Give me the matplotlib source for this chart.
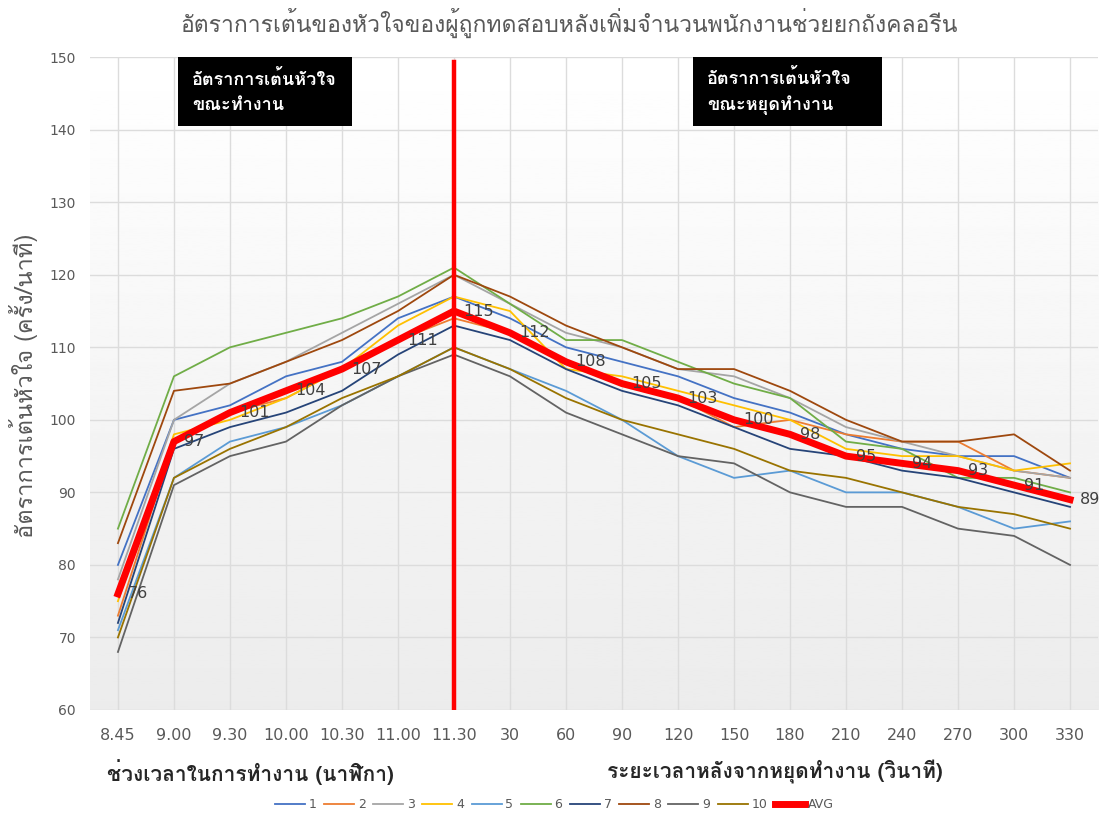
import numpy as np
import matplotlib
matplotlib.use("Agg")
import matplotlib.pyplot as plt
from matplotlib import font_manager, ft2font
from matplotlib.patches import Rectangle

categories = ['8.45', '9.00', '9.30', '10.00', '10.30', '11.00', '11.30',
              '30', '60', '90', '120', '150', '180', '210', '240', '270', '300', '330']

s1 = [80, 100, 102, 106, 108, 114, 117, 114, 110, 108, 106, 103, 101, 98, 96, 95, 95, 92]
s2 = [73, 97, 101, 103, 107, 111, 114, 112, 108, 105, 103, 99, 100, 98, 97, 97, 93, 92]
s3 = [78, 100, 105, 108, 112, 116, 120, 116, 112, 110, 107, 106, 103, 99, 97, 95, 93, 92]
s4 = [75, 98, 100, 103, 107, 113, 117, 115, 107, 106, 104, 102, 100, 96, 95, 95, 93, 94]
s5 = [71, 92, 97, 99, 102, 106, 110, 107, 104, 100, 95, 92, 93, 90, 90, 88, 85, 86]
s6 = [85, 106, 110, 112, 114, 117, 121, 116, 111, 111, 108, 105, 103, 97, 96, 92, 92, 90]
s7 = [72, 96, 99, 101, 104, 109, 113, 111, 107, 104, 102, 99, 96, 95, 93, 92, 90, 88]
s8 = [83, 104, 105, 108, 111, 115, 120, 117, 113, 110, 107, 107, 104, 100, 97, 97, 98, 93]
s9 = [68, 91, 95, 97, 102, 106, 109, 106, 101, 98, 95, 94, 90, 88, 88, 85, 84, 80]
s10 = [70, 92, 96, 99, 103, 106, 110, 107, 103, 100, 98, 96, 93, 92, 90, 88, 87, 85]
avg = [76, 97, 101, 104, 107, 111, 115, 112, 108, 105, 103, 100, 98, 95, 94, 93, 91, 89]

series_names = ['1', '2', '3', '4', '5', '6', '7', '8', '9', '10']
series_colors = ['#4472C4', '#ED7D31', '#A5A5A5', '#FFC000', '#5B9BD5',
                 '#70AD47', '#264478', '#9E480E', '#636363', '#997300']

split_cat = '11.30'   # end of work / start of rest


def thai_family():
    # first installed font that has Thai glyphs
    for f in font_manager.fontManager.ttflist:
        try:
            if 0x0E2D in ft2font.FT2Font(f.fname).get_charmap():
                return f.name
        except Exception:
            pass
    return 'DejaVu Sans'


TH = [thai_family(), 'DejaVu Sans']


def main():
    x = np.arange(len(categories))
    fig = plt.figure(figsize=(11.05, 8.17), dpi=100, facecolor='white')
    ax = fig.add_axes([0.0814, 0.131, 0.9123, 0.799])

    # plot area: soft white -> light gray fill
    grad = np.linspace(1.0, 0.925, 256).reshape(-1, 1)
    ax.imshow(grad, extent=[-0.5, len(categories) - 0.5, 60, 150], aspect='auto',
              cmap='gray', vmin=0, vmax=1, zorder=0, origin='upper')

    ax.set_xlim(-0.5, len(categories) - 0.5)
    ax.set_ylim(60, 150)
    ax.set_yticks(np.arange(60, 151, 10))
    ax.set_xticks(x)
    ax.set_xticklabels(categories, fontsize=11.5, color='#595959',
                       family=['Liberation Sans Narrow', 'DejaVu Sans'])
    ax.tick_params(axis='y', labelsize=10, colors='#595959', length=0, pad=10)
    ax.tick_params(axis='x', length=0, pad=13)
    ax.grid(True, color='#dcdcdc', linewidth=1)
    ax.set_axisbelow(True)
    for sp in ax.spines.values():
        sp.set_visible(False)

    all_series = [s1, s2, s3, s4, s5, s6, s7, s8, s9, s10]
    for vals, name, col in zip(all_series, series_names, series_colors):
        ax.plot(x, vals, color=col, linewidth=1.3, label=name, zorder=3)
    ax.plot(x, avg, color='#FF0000', linewidth=5, label='AVG', zorder=4)

    for xi, v in zip(x, avg):
        ax.annotate(str(v), (xi, v), xytext=(7, 0), textcoords='offset points',
                    ha='left', va='center', fontsize=11.5, color='#404040', zorder=5)

    # divider between working time and rest time
    xs = categories.index(split_cat)
    ax.plot([xs, xs], [60, 149.3], color='#FF0000', linewidth=3.2, zorder=6)

    # black caption boxes
    boxes = [(0.0873, 0.1727, 'อัตราการเต้นหัวใจ\nขณะทำงาน'),
             (0.598, 0.188, 'อัตราการเต้นหัวใจ\nขณะหยุดทำงาน')]
    for bx, bw, txt in boxes:
        ax.add_patch(Rectangle((bx, 0.894), bw, 0.106, transform=ax.transAxes,
                               facecolor='black', edgecolor='none', zorder=7,
                               clip_on=False))
        ax.text(bx + 0.014, 0.947, txt, transform=ax.transAxes, ha='left', va='center',
                color='white', fontsize=13, fontweight='bold', family=TH,
                linespacing=1.5, zorder=8)

    fig.text(0.515, 0.972, 'อัตราการเต้นของหัวใจของผู้ถูกทดสอบหลังเพิ่มจำนวนพนักงานช่วยยกถังคลอรีน',
             ha='center', va='center', fontsize=16.5, color='#595959', family=TH)
    fig.text(0.021, 0.528, 'อัตราการเต้นหัวใจ (ครั้ง/นาที)', rotation=90,
             ha='center', va='center', fontsize=17, color='#595959', family=TH)
    fig.text(0.097, 0.055, 'ช่วงเวลาในการทำงาน (นาฬิกา)', ha='left', va='center',
             fontsize=15, fontweight='bold', color='#262626', family=TH)
    fig.text(0.549, 0.055, 'ระยะเวลาหลังจากหยุดทำงาน (วินาที)', ha='left', va='center',
             fontsize=15, fontweight='bold', color='#262626', family=TH)

    leg = fig.legend(loc='center', bbox_to_anchor=(0.502, 0.015), ncol=11, frameon=False,
                     fontsize=9, handlelength=2.4, handletextpad=0.3, columnspacing=0.6)
    for t in leg.get_texts():
        t.set_color('#595959')

    fig.savefig('out.png', dpi=100, facecolor='white')


if __name__ == "__main__":
    main()
